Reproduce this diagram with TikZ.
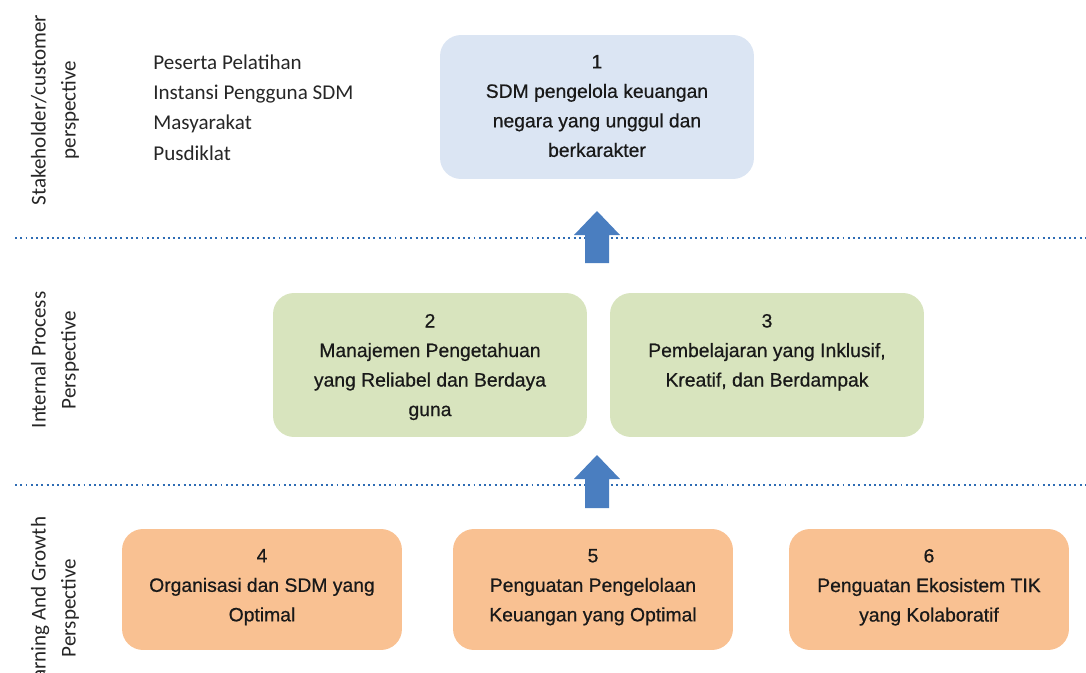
\documentclass[tikz,border=0pt]{standalone}
\usepackage{fontspec}
\setmainfont{Liberation Sans}
\newfontfamily\calibri{Carlito}
\newfontfamily\boxfont[FakeBold=0.6]{Liberation Sans}
\usepackage{xcolor}
\definecolor{custblue}{RGB}{219,229,243}
\definecolor{procgreen}{RGB}{216,228,190}
\definecolor{groworange}{RGB}{249,193,146}
\definecolor{arrowblue}{RGB}{74,126,192}
\definecolor{lineblue}{RGB}{46,108,180}
\definecolor{inkgray}{RGB}{38,38,38}

\tikzset{
  goalbox/.style={rectangle, rounded corners=0.42cm, minimum width=6.28cm, minimum height=2.88cm, inner sep=0pt},
  basebox/.style={goalbox, minimum width=5.6cm, minimum height=2.42cm},
  goaltext/.style={anchor=north, align=center, inner sep=0pt, text=black!90, font=\boxfont\fontsize{11}{16.8}\selectfont},
  sidelabel/.style={rotate=90, align=center, inner sep=0pt, text=inkgray, font=\calibri\fontsize{12}{17}\selectfont},
  divider/.style={lineblue, line width=1.3pt, dash pattern=on 1.1pt off 1.9pt}
}

\begin{document}
\begin{tikzpicture}[x=0.02cm, y=-0.02cm]
  \useasboundingbox (0,0) rectangle (1086,673);
  \clip (0,0) rectangle (1086,673);

  % perspective labels
  \node[sidelabel] (stake) at (55,110) {Stakeholder/customer\\perspective};
  \node[sidelabel] (internal) at (55,360) {Internal Process\\Perspective};
  \node[sidelabel] (growth) at (55,608) {Learning And Growth\\Perspective};

  \node[anchor=west, align=left, inner sep=0pt, text=inkgray,
        font=\calibri\fontsize{12}{17.2}\selectfont] (users) at (153,107.5)
    {Peserta Pelatihan\\Instansi Pengguna SDM\\Masyarakat\\Pusdiklat};

  % dividers
  \coordinate (d1a) at (15,238);  \coordinate (d1b) at (1086,238);
  \coordinate (d2a) at (15,485);  \coordinate (d2b) at (1086,485);
  \draw[divider] (d1a) -- (d1b);
  \draw[divider] (d2a) -- (d2b);

  % boxes
  \node[goalbox, fill=custblue] (g1) at (597,107) {};
  \node[goaltext] at ([yshift=-0.4cm]g1.north) {1\\SDM pengelola keuangan\\negara yang unggul dan\\berkarakter};

  \node[goalbox, fill=procgreen] (g2) at (430,365) {};
  \node[goaltext] at ([yshift=-0.42cm]g2.north) {2\\Manajemen Pengetahuan\\yang Reliabel dan Berdaya\\guna};
  \node[goalbox, fill=procgreen] (g3) at (767,365) {};
  \node[goaltext] at ([yshift=-0.42cm]g3.north) {3\\Pembelajaran yang Inklusif,\\Kreatif, dan Berdampak};

  \node[basebox, fill=groworange] (g4) at (262,589.5) {};
  \node[goaltext] at ([yshift=-0.4cm]g4.north) {4\\Organisasi dan SDM yang\\Optimal};
  \node[basebox, fill=groworange] (g5) at (593,589.5) {};
  \node[goaltext] at ([yshift=-0.4cm]g5.north) {5\\Penguatan Pengelolaan\\Keuangan yang Optimal};
  \node[basebox, fill=groworange] (g6) at (929,589.5) {};
  \node[goaltext] at ([yshift=-0.4cm]g6.north) {6\\Penguatan Ekosistem TIK\\yang Kolaboratif};

  % block arrows
  \fill[arrowblue] (585,263) -- (585,235) -- (574,235) -- (597,211) -- (620,235) -- (609,235) -- (609,263) -- cycle;
  \fill[arrowblue] (585,508) -- (585,479) -- (574,479) -- (597,455) -- (620,479) -- (609,479) -- (609,508) -- cycle;
\end{tikzpicture}
\end{document}
